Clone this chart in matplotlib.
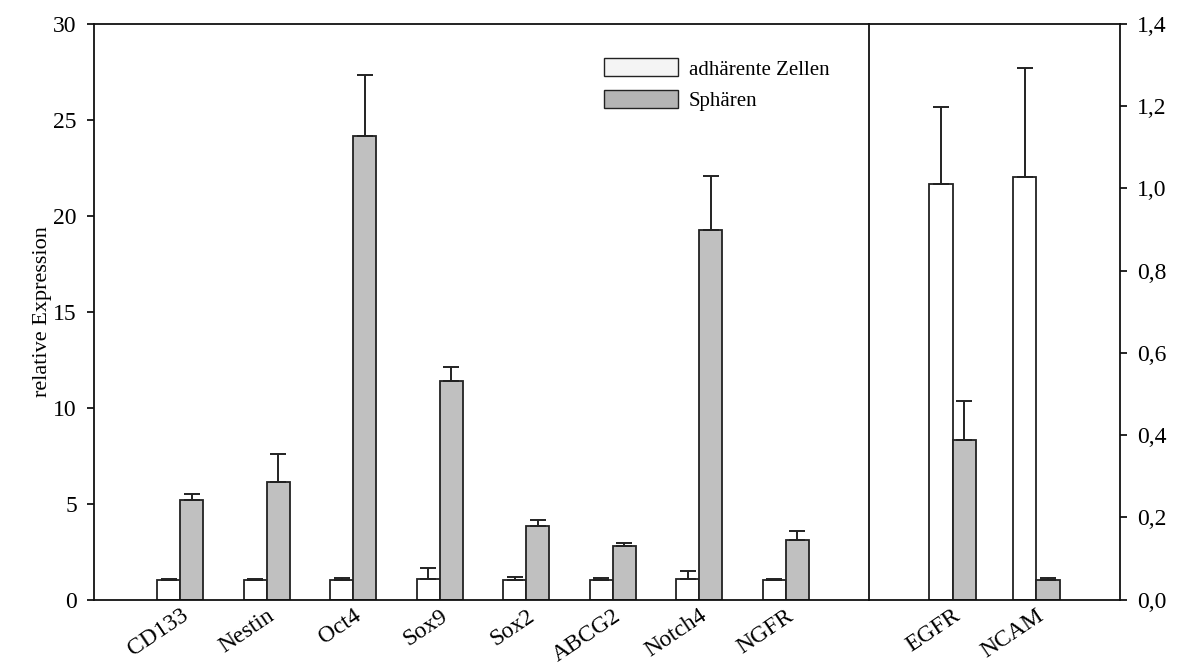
import numpy as np
import matplotlib
matplotlib.use("Agg")
import matplotlib.pyplot as plt
from matplotlib.ticker import FuncFormatter

# ---- data ----
genes_left = ["CD133", "Nestin", "Oct4", "Sox9", "Sox2", "ABCG2", "Notch4", "NGFR"]
adh_left = [1.02, 1.00, 1.00, 1.09, 1.03, 1.00, 1.06, 1.02]
adh_left_err = [0.05, 0.05, 0.11, 0.56, 0.12, 0.10, 0.42, 0.03]
sph_left = [5.20, 6.13, 24.15, 11.40, 3.84, 2.78, 19.27, 3.10]
sph_left_err = [0.28, 1.47, 3.20, 0.72, 0.31, 0.15, 2.83, 0.47]

genes_right = ["EGFR", "NCAM"]
adh_right = [1.010, 1.027]
adh_right_err = [0.188, 0.265]
sph_right = [0.387, 0.047]
sph_right_err = [0.097, 0.005]

series_labels = ["adhärente Zellen", "Sphären"]
left_yticks = [0, 5, 10, 15, 20, 25, 30]
right_yticks = [0.0, 0.2, 0.4, 0.6, 0.8, 1.0, 1.2, 1.4]

plt.rcParams["font.family"] = ["Liberation Serif", "DejaVu Serif"]

W, H = 1177, 664
fig = plt.figure(figsize=(W / 100, H / 100), dpi=100)

x0, xd, x1 = 93.5 / W, 869 / W, 1120 / W
yb, yt = (H - 599.5) / H, (H - 24) / H

axL = fig.add_axes([x0, yb, xd - x0, yt - yb])
axR = fig.add_axes([xd, yb, x1 - xd, yt - yb])

white = "#ffffff"
gray = "#c0c0c0"
edge = "#222222"
lw = 1.3
ekw = dict(elinewidth=1.4, capthick=1.4, ecolor="#222222")

def draw(ax, genes, adh, adh_err, sph, sph_err, width):
    x = np.arange(len(genes))
    z = np.zeros(len(genes))
    ax.bar(x - width / 2, adh, width, color=white, edgecolor=edge, linewidth=lw,
           yerr=[z, adh_err], capsize=5.8, error_kw=ekw, zorder=2)
    ax.bar(x + width / 2, sph, width, color=gray, edgecolor=edge, linewidth=lw,
           yerr=[z, sph_err], capsize=5.8, error_kw=ekw, zorder=2)
    ax.set_xticks(x)
    ax.set_xticklabels(genes, rotation=34, ha="right", rotation_mode="anchor",
                       fontsize=17)
    ax.tick_params(axis="x", length=0, pad=4)

draw(axL, genes_left, adh_left, adh_left_err, sph_left, sph_left_err, 0.266)
draw(axR, genes_right, adh_right, adh_right_err, sph_right, sph_right_err, 0.28)

axL.set_xlim(-1.0, 7.96)
axL.set_ylim(0, 30)
axL.set_yticks(left_yticks)
axL.tick_params(axis="y", direction="out", length=5, width=1.2, labelsize=17, pad=7)
axL.set_ylabel("relative Expression", fontsize=16)
axL.yaxis.set_label_coords(-(93.5 - 52) / (869 - 93.5), 0.5)
axL.spines["right"].set_visible(False)

axR.set_xlim(-1.0, 2.0)
axR.set_ylim(0, 1.4)
axR.set_yticks(right_yticks)
axR.yaxis.tick_right()
axR.yaxis.set_major_formatter(FuncFormatter(lambda v, p: f"{v:.1f}".replace(".", ",")))
axR.tick_params(axis="y", direction="out", length=5, width=1.2, labelsize=17, pad=7)

for ax in (axL, axR):
    for s in ax.spines.values():
        s.set_linewidth(1.3)
        s.set_color("#111111")

handles = [
    matplotlib.patches.Patch(facecolor="#f4f4f4", edgecolor=edge, linewidth=1.0),
    matplotlib.patches.Patch(facecolor="#b4b4b4", edgecolor=edge, linewidth=1.0),
]
fig.legend(handles, series_labels, loc="upper left",
           bbox_to_anchor=(596 / W, 1 - 50 / H), frameon=False, fontsize=15,
           handlelength=3.55, handleheight=0.96, handletextpad=0.5, labelspacing=0.5,
           borderaxespad=0)

fig.savefig("out.png", dpi=100)
